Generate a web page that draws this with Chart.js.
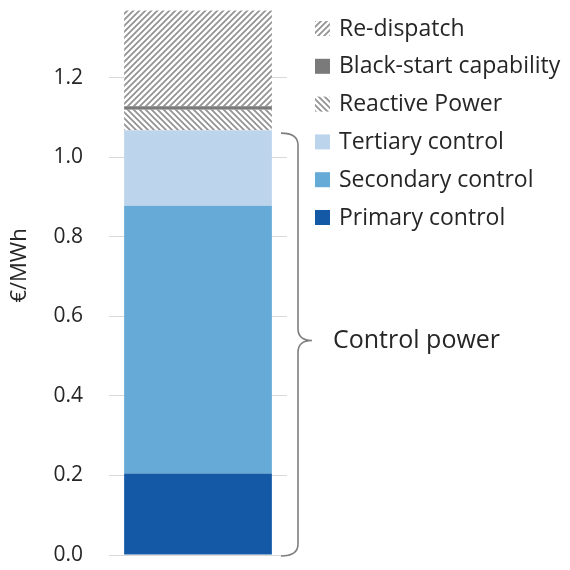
<!DOCTYPE html>
<html>
<head>
<meta charset="utf-8">
<script src="https://cdn.jsdelivr.net/npm/chart.js@4.4.1/dist/chart.umd.min.js"></script>
<style>
  body { margin: 0; background: #fff; }
  #wrap { width: 570px; height: 570px; }
</style>
</head>
<body>
<div id="wrap"><canvas id="costChart" width="570" height="570"></canvas></div>
<script>
// values (€/MWh), stacked bottom -> top
const categories = [''];
const seriesNames = ['Primary control', 'Secondary control', 'Tertiary control',
                     'Reactive Power', 'Black-start capability', 'Re-dispatch'];
const primary = [0.205];
const secondary = [0.673];
const tertiary = [0.19];
const reactive = [0.051];
const blackStart = [0.009];
const redispatch = [0.241];
const yTicks = [0.0, 0.2, 0.4, 0.6, 0.8, 1.0, 1.2];
const yTitle = '€/MWh';
const bracketLabel = 'Control power';

const FONT = '"Open Sans", sans-serif';
const TXT = '#262626';

function hatch(dir) {
  let c = document.createElement('canvas');
  c.width = 6; c.height = 6;
  let g = c.getContext('2d');
  g.fillStyle = '#fff';
  g.fillRect(0, 0, 6, 6);
  g.strokeStyle = '#939393';
  g.lineWidth = 1.8;
  g.beginPath();
  if (dir === '/') {
    g.moveTo(-1, 7); g.lineTo(7, -1);
    g.moveTo(-4, 4); g.lineTo(4, -4);
    g.moveTo(2, 10); g.lineTo(10, 2);
  } else {
    g.moveTo(-1, -1); g.lineTo(7, 7);
    g.moveTo(-4, 2); g.lineTo(4, 10);
    g.moveTo(2, -4); g.lineTo(10, 4);
  }
  g.stroke();
  return g.createPattern(c, 'repeat');
}

const ctx = document.getElementById('costChart').getContext('2d');

const colors = ['#1459a5', '#66aad8', '#bcd4ec', hatch('\\'), '#7a7a7a', hatch('/')];
const values = [primary, secondary, tertiary, reactive, blackStart, redispatch];

const datasets = values.map((v, i) => ({
  label: seriesNames[i],
  data: v,
  backgroundColor: colors[i],
  borderWidth: 0,
  categoryPercentage: 1,
  barPercentage: 0.83
}));

// axis title, legend and bracket drawn on the canvas
const extras = {
  id: 'extras',
  afterDraw(chart) {
    const c = chart.ctx;
    const y = chart.scales.y;
    const area = chart.chartArea;
    c.save();

    c.save();
    c.translate(20, (area.top + area.bottom) / 2 - 17);
    c.rotate(-Math.PI / 2);
    c.font = '22px ' + FONT;
    c.fillStyle = TXT;
    c.textAlign = 'center';
    c.textBaseline = 'middle';
    c.fillText(yTitle, 0, 0);
    c.restore();

    // legend, top item = last dataset
    c.font = '23px ' + FONT;
    c.textBaseline = 'middle';
    const ds = chart.data.datasets.slice().reverse();
    ds.forEach((d, i) => {
      let cy = 28 + i * 37.8;
      c.fillStyle = d.backgroundColor;
      c.fillRect(315, cy - 7, 15, 15);
      c.fillStyle = TXT;
      c.fillText(d.label, 339, cy + 1);
    });

    // bracket around the control power part
    const ctrl = primary[0] + secondary[0] + tertiary[0];
    const top = y.getPixelForValue(ctrl) + 3;
    const bot = y.getPixelForValue(0) + 1;
    const mid = (top + bot) / 2 - 4;
    const x0 = area.right - 6, x1 = x0 + 17, tip = x1 + 14, r = 12;
    c.strokeStyle = '#7f7f7f';
    c.lineWidth = 1.6;
    c.beginPath();
    c.moveTo(x0, top);
    c.quadraticCurveTo(x1, top, x1, top + r);
    c.lineTo(x1, mid - r);
    c.quadraticCurveTo(x1, mid, tip, mid);
    c.quadraticCurveTo(x1, mid, x1, mid + r);
    c.lineTo(x1, bot - r);
    c.quadraticCurveTo(x1, bot, x0, bot);
    c.stroke();
    c.font = '25px ' + FONT;
    c.fillStyle = TXT;
    c.fillText(bracketLabel, tip + 21, mid);
    c.restore();
  }
};

new Chart(ctx, {
  type: 'bar',
  data: { labels: categories, datasets: datasets },
  plugins: [extras],
  options: {
    responsive: false,
    animation: false,
    layout: { padding: { top: 10, right: 283, bottom: 15, left: 0 } },
    plugins: { legend: { display: false }, tooltip: { enabled: false } },
    scales: {
      x: { stacked: true, display: false },
      y: {
        stacked: true,
        min: 0,
        max: 1.37,
        afterFit: s => { s.width = 109; s.paddingTop = 0; s.paddingBottom = 0; },
        afterBuildTicks: s => { s.ticks = yTicks.map(v => ({ value: v })); },
        border: { display: false },
        grid: { color: '#d9d9d9', drawTicks: false },
        ticks: {
          padding: 26,
          color: TXT,
          font: { family: FONT, size: 21 },
          callback: v => Number(v).toFixed(1)
        }
      }
    }
  }
});
</script>
</body>
</html>
